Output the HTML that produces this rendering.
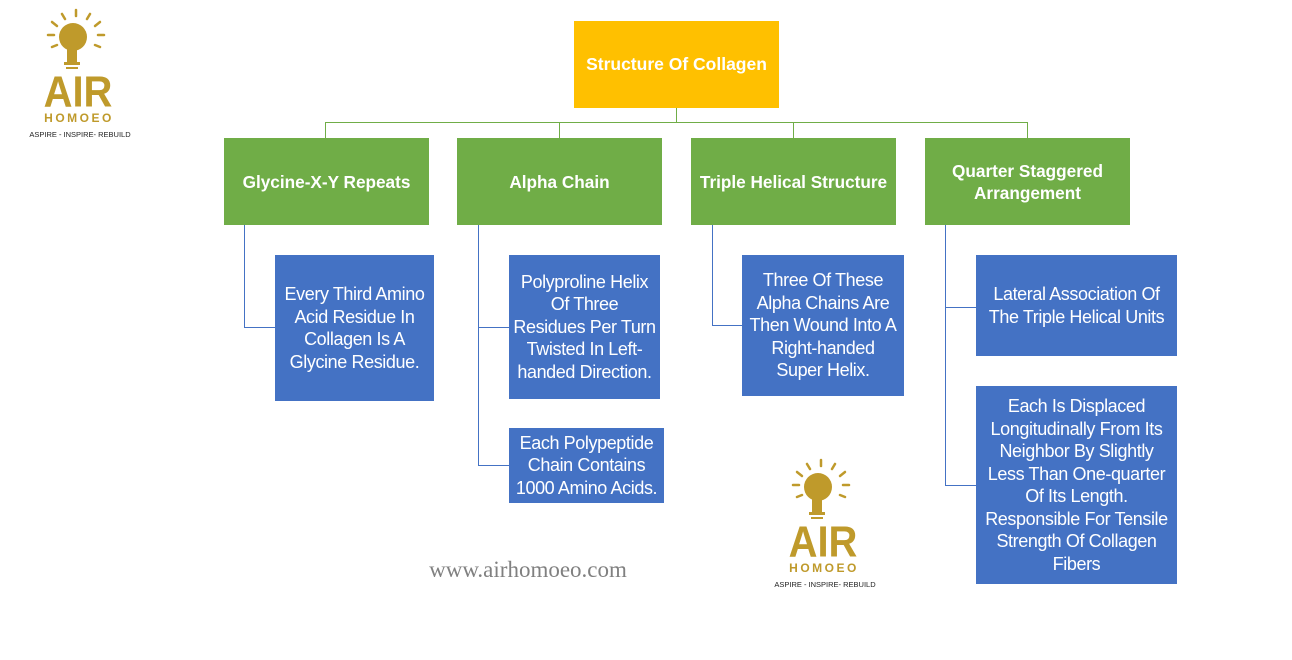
<!DOCTYPE html>
<html><head><meta charset="utf-8"><style>
body{margin:0;width:1292px;height:660px;background:#fff;position:relative;overflow:hidden;font-family:"Liberation Sans",sans-serif}
.b{position:absolute;display:flex;align-items:center;justify-content:center;text-align:center;color:#fff;box-sizing:border-box;white-space:nowrap}
.g{background:#70AD47;font-weight:bold;font-size:17.2px;line-height:22px}
.u{background:#4472C4;font-size:18px;line-height:22.5px;letter-spacing:-0.4px}
</style></head><body>
<svg width="1292" height="660" style="position:absolute;left:0;top:0">
<g stroke="#70AD47" stroke-width="1" fill="none">
<path d="M676.5 107V122.5M325.5 122.5H1027.5M325.5 122V138M559.5 122V138M793.5 122V138M1027.5 122V138"/>
</g>
<g stroke="#4472C4" stroke-width="1" fill="none">
<path d="M244.5 225V327.5H275M478.5 225V465.5H509M478.5 327.5H509M712.5 225V325.5H742M945.5 225V485.5H976M945.5 307.5H976"/>
</g>
<g id="logo" fill="#BF9A2B" stroke="#BF9A2B">
<g stroke-width="2.5" stroke-linecap="round">
<line x1="76" y1="10" x2="76" y2="16"/><line x1="62" y1="14" x2="65" y2="19"/><line x1="90" y1="14" x2="87" y2="19"/>
<line x1="52" y1="22" x2="57" y2="26"/><line x1="100" y1="22" x2="95" y2="26"/><line x1="48" y1="35" x2="54" y2="35"/>
<line x1="98" y1="35" x2="104" y2="35"/><line x1="52" y1="47" x2="57" y2="45"/><line x1="100" y1="47" x2="95" y2="45"/>
</g>
<circle cx="73" cy="37" r="14" stroke="none"/>
<rect x="67" y="48" width="10" height="14" stroke="none"/>
<rect x="64" y="62" width="16" height="3" stroke="none"/>
<rect x="66" y="67" width="12" height="2" stroke="none"/>
<text x="78" y="106" text-anchor="middle" font-family="Liberation Sans,sans-serif" font-weight="bold" font-size="40" stroke="none" transform="translate(78 0) scale(1 1.1) translate(-78 -9)">AIR</text>
<text x="79" y="122" text-anchor="middle" font-family="Liberation Sans,sans-serif" font-weight="bold" font-size="12" letter-spacing="2.5" stroke="none">HOMOEO</text>
<text x="80" y="137" text-anchor="middle" font-family="Liberation Sans,sans-serif" font-size="7.5" fill="#222" stroke="none">ASPIRE - INSPIRE- REBUILD</text>
</g>
<use href="#logo" x="745" y="450"/>
<text x="528" y="577" text-anchor="middle" font-family="Liberation Serif,serif" font-size="23" fill="#808080">www.airhomoeo.com</text>
</svg>
<div class="b" style="left:574px;top:21px;width:205px;height:87px;background:#FFC000;font-weight:bold;font-size:17.5px">Structure Of Collagen</div>
<div class="b g" style="left:224px;top:138px;width:205px;height:87px">Glycine-X-Y Repeats</div>
<div class="b g" style="left:457px;top:138px;width:205px;height:87px">Alpha Chain</div>
<div class="b g" style="left:691px;top:138px;width:205px;height:87px">Triple Helical Structure</div>
<div class="b g" style="left:925px;top:138px;width:205px;height:87px">Quarter Staggered<br>Arrangement</div>
<div class="b u" style="left:275px;top:255px;width:159px;height:146px">Every Third Amino<br>Acid Residue In<br>Collagen Is A<br>Glycine Residue.</div>
<div class="b u" style="left:509px;top:255px;width:151px;height:144px">Polyproline Helix<br>Of Three<br>Residues Per Turn<br>Twisted In Left-<br>handed Direction.</div>
<div class="b u" style="left:509px;top:428px;width:155px;height:75px">Each Polypeptide<br>Chain Contains<br>1000 Amino Acids.</div>
<div class="b u" style="left:742px;top:255px;width:162px;height:141px">Three Of These<br>Alpha Chains Are<br>Then Wound Into A<br>Right-handed<br>Super Helix.</div>
<div class="b u" style="left:976px;top:255px;width:201px;height:101px">Lateral Association Of<br>The Triple Helical Units</div>
<div class="b u" style="left:976px;top:386px;width:201px;height:198px">Each Is Displaced<br>Longitudinally From Its<br>Neighbor By Slightly<br>Less Than One-quarter<br>Of Its Length.<br>Responsible For Tensile<br>Strength Of Collagen<br>Fibers</div>
</body></html>
